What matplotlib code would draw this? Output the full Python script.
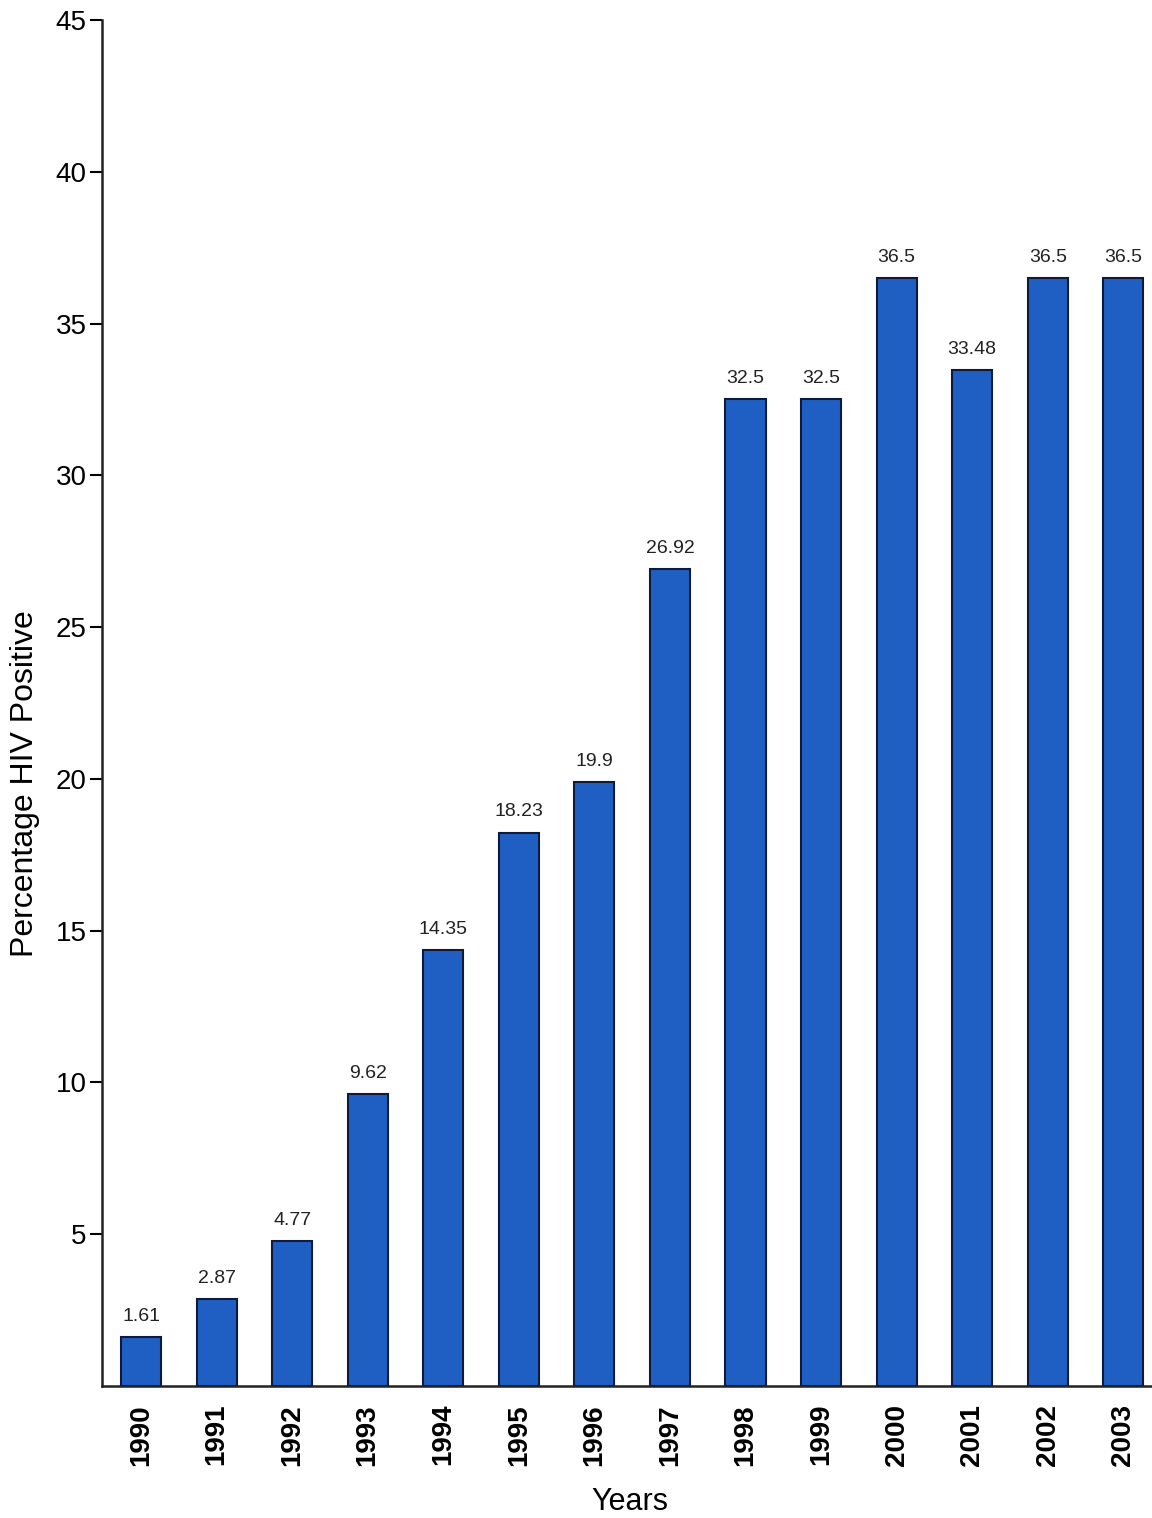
import matplotlib.pyplot as plt

years = ['1990', '1991', '1992', '1993', '1994', '1995', '1996',
         '1997', '1998', '1999', '2000', '2001', '2002', '2003']
percent_hiv = [1.61, 2.87, 4.77, 9.62, 14.35, 18.23, 19.9,
               26.92, 32.5, 32.5, 36.5, 33.48, 36.5, 36.5]
y_ticks = [5, 10, 15, 20, 25, 30, 35, 40, 45]

plt.rcParams['font.family'] = ['Liberation Sans', 'DejaVu Sans']

fig = plt.figure(figsize=(11.52, 15.18), dpi=100)
ax = fig.add_axes([0.0885, 0.087, 0.9115, 0.8998])

x = list(range(len(years)))
bars = ax.bar(x, percent_hiv, width=0.53, color='#1f5fc4',
              edgecolor='#0d1a3a', linewidth=1.5)

for xi, v in zip(x, percent_hiv):
    ax.text(xi, v + 0.4, f'{v:g}', ha='center', va='bottom', fontsize=14,
            family=['Liberation Sans Narrow', 'Liberation Sans', 'DejaVu Sans'],
            color='#222222')

ax.set_xlim(-0.517, 13.38)
ax.set_ylim(0, 45)
ax.set_yticks(y_ticks)
ax.set_yticklabels([str(t) for t in y_ticks], fontsize=20)
ax.set_xticks(x)
ax.set_xticklabels(years, rotation=90, fontsize=20, fontweight='bold')
ax.tick_params(axis='x', length=0, pad=13)
ax.tick_params(axis='y', length=9, width=1.5, pad=2, direction='out')

for side in ['top', 'right']:
    ax.spines[side].set_visible(False)
for side in ['left', 'bottom']:
    ax.spines[side].set_linewidth(1.8)
    ax.spines[side].set_color('#222222')

ax.set_ylabel('Percentage HIV Positive', fontsize=23)
ax.yaxis.set_label_coords(-0.059, 0.441)
ax.set_xlabel('Years', fontsize=22)
ax.xaxis.set_label_coords(0.503, -0.074)

fig.savefig('out.png', dpi=100)
